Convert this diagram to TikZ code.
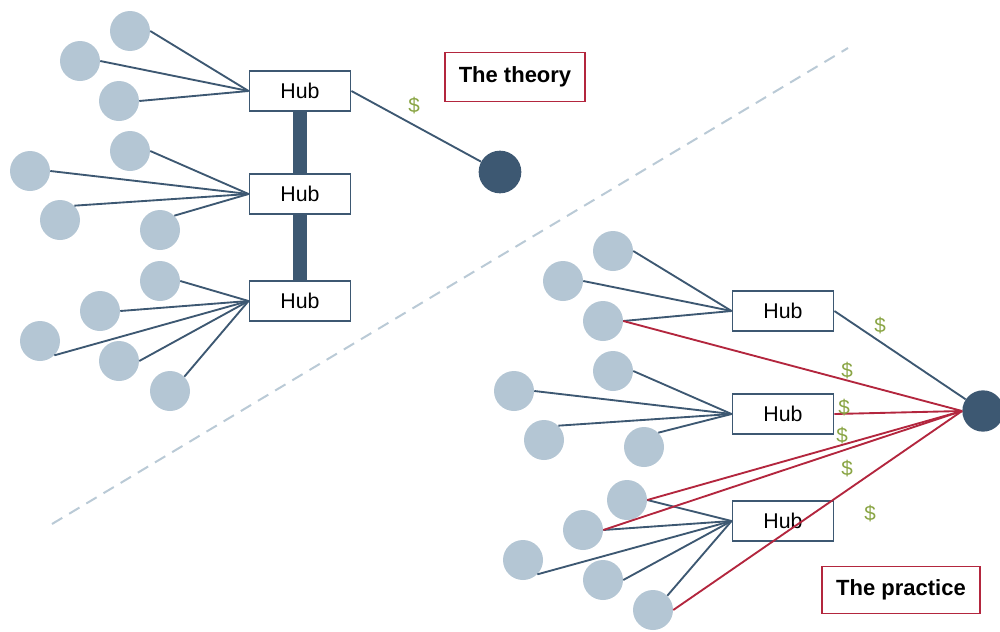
\documentclass[tikz,border=0pt]{standalone}
\usepackage{fontspec}
\setmainfont{Liberation Sans}
\definecolor{lightc}{HTML}{B4C6D4}
\definecolor{darkb}{HTML}{3D5872}
\definecolor{redl}{HTML}{B3263E}
\definecolor{greend}{HTML}{8AA545}
\definecolor{dashc}{HTML}{BACAD6}
\begin{document}
\begin{tikzpicture}[x=0.75pt,y=-0.75pt,
  leaf/.style={circle,fill=lightc,draw=none,minimum size=30pt,inner sep=0pt},
  sink/.style={circle,fill=darkb,draw=none,minimum size=31pt,inner sep=0pt},
  hub/.style={rectangle,draw=darkb,line width=1.4pt,fill=white,minimum width=75.75pt,minimum height=30pt,inner sep=0pt,font=\fontsize{16}{19}\selectfont},
  link/.style={draw=darkb,line width=1.4pt},
  rlink/.style={draw=redl,line width=1.4pt},
  money/.style={text=greend,font=\fontsize{15.5}{18}\selectfont,inner sep=0pt},
  label/.style={rectangle,draw=redl,line width=1.4pt,fill=white,inner sep=0pt,font=\fontsize{16.5}{19}\selectfont\bfseries},
  barl/.style={draw=darkb,line width=10.5pt}]
\useasboundingbox (0,0) rectangle (1000,632);
% divider
\coordinate (d1) at (52,524);
\coordinate (d2) at (848,48);
\draw[dashc,line width=1.5pt,dash pattern=on 9pt off 6pt] (d1) -- (d2);

% ---------- theory ----------
\node[hub] (h1) at (300,91) {Hub};
\node[hub] (h2) at (300,194) {Hub};
\node[hub] (h3) at (300,301) {Hub};
\draw[barl] (h1.south) -- (h2.north);
\draw[barl] (h2.south) -- (h3.north);

\node[leaf] (a1) at (130,31) {};
\node[leaf] (a2) at (80,61) {};
\node[leaf] (a3) at (119,101) {};
\node[leaf] (b1) at (130,151) {};
\node[leaf] (b2) at (30,171) {};
\node[leaf] (b3) at (60,220) {};
\node[leaf] (b4) at (160,230) {};
\node[leaf] (c1) at (160,281) {};
\node[leaf] (c2) at (100,311) {};
\node[leaf] (c3) at (40,341) {};
\node[leaf] (c4) at (119,361) {};
\node[leaf] (c5) at (170,391) {};

\draw[link] (a1.east) -- (h1.west);
\draw[link] (a2.east) -- (h1.west);
\draw[link] (a3.east) -- (h1.west);
\draw[link] (b1.east) -- (h2.west);
\draw[link] (b2.east) -- (h2.west);
\draw[link] (b3.45) -- (h2.west);
\draw[link] (b4.45) -- (h2.west);
\draw[link] (c1.east) -- (h3.west);
\draw[link] (c2.east) -- (h3.west);
\draw[link] (c3.-45) -- (h3.west);
\draw[link] (c4.east) -- (h3.west);
\draw[link] (c5.45) -- (h3.west);

\node[sink,minimum size=32pt] (s1) at (500,172) {};
\draw[link] (h1.east) -- (s1);
\node[money] (m0) at (414,106) {\$};
\node[label,minimum width=105pt,minimum height=36.75pt] (lt) at (515,77) {The theory};

% ---------- practice ----------
\node[hub] (p1) at (783,311) {Hub};
\node[hub] (p2) at (783,414) {Hub};
\node[hub] (p3) at (783,521) {Hub};

\node[leaf] (e1) at (613,251) {};
\node[leaf] (e2) at (563,281) {};
\node[leaf] (e3) at (603,321) {};
\node[leaf] (f1) at (613,371) {};
\node[leaf] (f2) at (514,391) {};
\node[leaf] (f3) at (544,440) {};
\node[leaf] (f4) at (644,447) {};
\node[leaf] (g1) at (627,500) {};
\node[leaf] (g2) at (583,530) {};
\node[leaf] (g3) at (523,560) {};
\node[leaf] (g4) at (603,580) {};
\node[leaf] (g5) at (653,610) {};

\node[sink,minimum size=31pt] (s2) at (983,411) {};

\draw[link] (e1.east) -- (p1.west);
\draw[link] (e2.east) -- (p1.west);
\draw[link] (e3.east) -- (p1.west);
\draw[link] (f1.east) -- (p2.west);
\draw[link] (f2.east) -- (p2.west);
\draw[link] (f3.45) -- (p2.west);
\draw[link] (f4.45) -- (p2.west);
\draw[link] (g1.east) -- (p3.west);
\draw[link] (g2.east) -- (p3.west);
\draw[link] (g3.-45) -- (p3.west);
\draw[link] (g4.east) -- (p3.west);
\draw[link] (g5.45) -- (p3.west);
\draw[link] (p1.east) -- (s2);

\draw[rlink] (e3.east) -- (s2.west);
\draw[rlink] (p2.east) -- (s2.west);
\draw[rlink] (g1.east) -- (s2.west);
\draw[rlink] (g2.east) -- (s2.west);
\draw[rlink] (g5.east) -- (s2.west);

\node[money] (m1) at (880,326) {\$};
\node[money] (m2) at (847,371) {\$};
\node[money] (m3) at (844,408) {\$};
\node[money] (m4) at (842,436) {\$};
\node[money] (m5) at (847,469) {\$};
\node[money] (m6) at (870,514) {\$};

\node[label,minimum width=118.5pt,minimum height=35.25pt] (lp) at (901,590) {The practice};
\end{tikzpicture}
\end{document}
